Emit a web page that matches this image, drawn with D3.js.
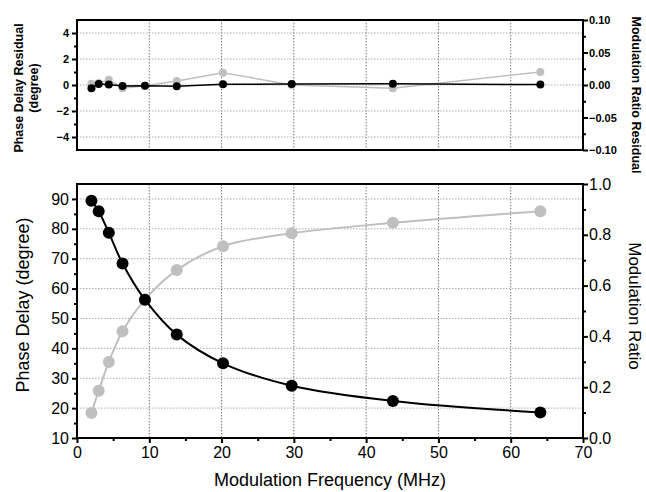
<!DOCTYPE html>
<html>
<head>
<meta charset="utf-8">
<script src="https://cdnjs.cloudflare.com/ajax/libs/d3/7.8.5/d3.min.js"></script>
<style>
  body { margin: 0; background: #fff; }
  svg { font-family: "Liberation Sans", Arial, sans-serif; }
</style>
</head>
<body>
<div class="chart"></div>
<script>
// data
var freq = [2.0, 3.0, 4.4, 6.3, 9.4, 13.8, 20.2, 29.7, 43.7, 64.1];
var phase = [89.4, 85.9, 78.7, 68.4, 56.3, 44.6, 35.0, 27.5, 22.4, 18.5];
var modRatio = [0.098, 0.186, 0.299, 0.42, 0.545, 0.661, 0.755, 0.806, 0.847, 0.893];
var phaseRes = [-0.25, 0.08, 0.03, -0.07, -0.05, -0.1, 0.05, 0.08, 0.1, 0.03];
var modRes = [0.002, 0.003, 0.008, -0.005, -0.001, 0.006, 0.019, 0.0, -0.005, 0.02];

var xTicks = [0, 10, 20, 30, 40, 50, 60, 70];
var phaseTicks = [10, 20, 30, 40, 50, 60, 70, 80, 90];
var ratioTicks = [0, 0.2, 0.4, 0.6, 0.8, 1.0];
var phaseResTicks = [-4, -2, 0, 2, 4];
var modResTicks = [-0.10, -0.05, 0, 0.05, 0.10];

var width = 646, height = 492;
var left = 77, right = 583;
var grey = "#bfbfbf";

var svg = d3.select(".chart").append("svg")
    .attr("width", width)
    .attr("height", height);

/* scales */
var x = d3.scaleLinear().domain([0, 70]).range([left, right]);
var yPhase = d3.scaleLinear().domain([10, 95]).range([438, 184]);
var yRatio = d3.scaleLinear().domain([0, 1.0]).range([438, 184]);
var yRes = d3.scaleLinear().domain([-5, 5]).range([150, 20]);
var yModRes = d3.scaleLinear().domain([-0.1, 0.1]).range([150, 20]);

function rows(a) {
  return freq.map(function(f, i) { return {x: f, y: a[i]}; });
}

// draws grid, ticks and frame of one panel
function panel(yL, yR, top, bottom, opts) {
  var g = svg.append("g");

  // grid
  g.selectAll(".vg").data(xTicks.slice(1, -1)).enter().append("line")
      .attr("x1", function(d) { return x(d); }).attr("x2", function(d) { return x(d); })
      .attr("y1", top).attr("y2", bottom)
      .attr("stroke", "#777").attr("stroke-width", 1).attr("stroke-dasharray", "1.5,1.5");
  g.selectAll(".hg").data(opts.gridY).enter().append("line")
      .attr("x1", left).attr("x2", right)
      .attr("y1", function(d) { return yL(d); }).attr("y2", function(d) { return yL(d); })
      .attr("stroke", "#aaa").attr("stroke-width", 1).attr("stroke-dasharray", "1.5,1.5");

  // left axis
  var la = g.append("g").attr("transform", "translate(" + left + ",0)")
      .call(d3.axisLeft(yL).tickValues(opts.minorL).tickSize(3).tickFormat(""));
  la.select(".domain").remove();
  la.selectAll("line").attr("stroke-width", 2);
  var la2 = g.append("g").attr("transform", "translate(" + left + ",0)")
      .call(d3.axisLeft(yL).tickValues(opts.ticksL).tickSize(5).tickPadding(3).tickFormat(opts.fmtL));
  la2.select(".domain").remove();
  la2.selectAll("line").attr("stroke-width", 2);
  la2.selectAll("text").attr("font-size", opts.fs).attr("font-weight", opts.fw).attr("fill", "#000")
      .attr("font-family", "Liberation Sans, Arial, sans-serif");

  // right axis
  var ra = g.append("g").attr("transform", "translate(" + right + ",0)")
      .call(d3.axisRight(yR).tickValues(opts.minorR).tickSize(3).tickFormat(""));
  ra.select(".domain").remove();
  ra.selectAll("line").attr("stroke-width", 2);
  var ra2 = g.append("g").attr("transform", "translate(" + right + ",0)")
      .call(d3.axisRight(yR).tickValues(opts.ticksR).tickSize(5).tickPadding(1).tickFormat(opts.fmtR));
  ra2.select(".domain").remove();
  ra2.selectAll("line").attr("stroke-width", 2);
  ra2.selectAll("text").attr("font-size", opts.fs).attr("font-weight", opts.fw).attr("fill", "#000")
      .attr("font-family", "Liberation Sans, Arial, sans-serif");

  // bottom axis (only lower panel)
  if (opts.xAxis) {
    var xa = g.append("g").attr("transform", "translate(0," + bottom + ")")
        .call(d3.axisBottom(x).tickValues(d3.range(5, 70, 10)).tickSize(3).tickFormat(""));
    xa.select(".domain").remove();
    xa.selectAll("line").attr("stroke-width", 2);
    var xa2 = g.append("g").attr("transform", "translate(0," + bottom + ")")
        .call(d3.axisBottom(x).tickValues(xTicks).tickSize(5).tickPadding(4).tickFormat(d3.format("d")));
    xa2.select(".domain").remove();
    xa2.selectAll("line").attr("stroke-width", 2);
    xa2.selectAll("text").attr("font-size", opts.fs).attr("fill", "#000")
        .attr("font-family", "Liberation Sans, Arial, sans-serif");
  }

  // frame
  g.append("rect")
      .attr("x", left).attr("y", top)
      .attr("width", right - left).attr("height", bottom - top)
      .attr("fill", "none").attr("stroke", "#000").attr("stroke-width", 2);
}

/* residual panel */
panel(yRes, yModRes, 20, 150, {
  gridY: phaseResTicks, ticksL: phaseResTicks, minorL: [-3, -1, 1, 3],
  ticksR: modResTicks, minorR: [-0.075, -0.025, 0.025, 0.075],
  fmtL: d3.format("d"), fmtR: d3.format(".2f"), fs: "11px", fw: "bold", xAxis: false
});

/* main panel */
panel(yPhase, yRatio, 184, 438, {
  gridY: phaseTicks.slice(1), ticksL: phaseTicks, minorL: d3.range(15, 95, 10),
  ticksR: ratioTicks, minorR: [0.1, 0.3, 0.5, 0.7, 0.9],
  fmtL: d3.format("d"), fmtR: d3.format(".1f"), fs: "16px", fw: "normal", xAxis: true
});

/* residual lines */
var resModLine = d3.line().x(function(d) { return x(d.x); }).y(function(d) { return yModRes(d.y); });
var resPhaseLine = d3.line().x(function(d) { return x(d.x); }).y(function(d) { return yRes(d.y); });

svg.append("path").datum(rows(modRes))
    .attr("d", resModLine).attr("fill", "none").attr("stroke", grey).attr("stroke-width", 1.5);
svg.selectAll(".mr").data(rows(modRes)).enter().append("circle")
    .attr("cx", function(d) { return x(d.x); }).attr("cy", function(d) { return yModRes(d.y); })
    .attr("r", 4).attr("fill", grey);
svg.append("path").datum(rows(phaseRes))
    .attr("d", resPhaseLine).attr("fill", "none").attr("stroke", "#000").attr("stroke-width", 1.5);
svg.selectAll(".pr").data(rows(phaseRes)).enter().append("circle")
    .attr("cx", function(d) { return x(d.x); }).attr("cy", function(d) { return yRes(d.y); })
    .attr("r", 4).attr("fill", "#000");

/* main curves */
var ratioLine = d3.line().x(function(d) { return x(d.x); }).y(function(d) { return yRatio(d.y); })
    .curve(d3.curveCatmullRom.alpha(0.5));
var phaseLine = d3.line().x(function(d) { return x(d.x); }).y(function(d) { return yPhase(d.y); })
    .curve(d3.curveCatmullRom.alpha(0.5));

svg.append("path").datum(rows(modRatio))
    .attr("d", ratioLine).attr("fill", "none").attr("stroke", grey).attr("stroke-width", 2);
svg.selectAll(".mp").data(rows(modRatio)).enter().append("circle")
    .attr("cx", function(d) { return x(d.x); }).attr("cy", function(d) { return yRatio(d.y); })
    .attr("r", 6).attr("fill", grey);
svg.append("path").datum(rows(phase))
    .attr("d", phaseLine).attr("fill", "none").attr("stroke", "#000").attr("stroke-width", 2);
svg.selectAll(".pp").data(rows(phase)).enter().append("circle")
    .attr("cx", function(d) { return x(d.x); }).attr("cy", function(d) { return yPhase(d.y); })
    .attr("r", 6).attr("fill", "#000");

/* axis titles */
svg.append("text")
    .attr("transform", "translate(23,88) rotate(-90)")
    .attr("text-anchor", "middle").attr("font-size", "12.5px").attr("font-weight", "bold")
    .text("Phase Delay Residual");
svg.append("text")
    .attr("transform", "translate(38,88) rotate(-90)")
    .attr("text-anchor", "middle").attr("font-size", "12.5px").attr("font-weight", "bold")
    .text("(degree)");
svg.append("text")
    .attr("transform", "translate(632,95) rotate(90)")
    .attr("text-anchor", "middle").attr("font-size", "12.5px").attr("font-weight", "bold")
    .text("Modulation Ratio Residual");

svg.append("text")
    .attr("transform", "translate(29,305) rotate(-90)")
    .attr("text-anchor", "middle").attr("font-size", "18px")
    .text("Phase Delay (degree)");
svg.append("text")
    .attr("transform", "translate(629,306) rotate(90)")
    .attr("text-anchor", "middle").attr("font-size", "17px")
    .text("Modulation Ratio");
svg.append("text")
    .attr("x", 330).attr("y", 486)
    .attr("text-anchor", "middle").attr("font-size", "18px")
    .text("Modulation Frequency (MHz)");
</script>
</body>
</html>
